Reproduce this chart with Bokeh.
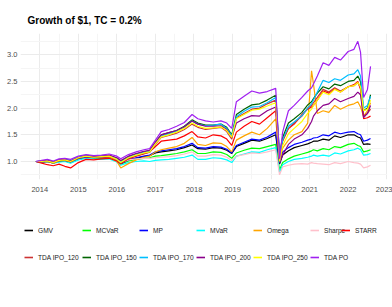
from bokeh.plotting import figure
from bokeh.layouts import column
from bokeh.models import Range1d, FixedTicker, Legend, LegendItem
from bokeh.embed import file_html
from bokeh.resources import INLINE

# ---------------- data ----------------
dates = [2013.90, 2014.05, 2014.20, 2014.35, 2014.50, 2014.65, 2014.80, 2015.00, 2015.20, 2015.40,
         2015.60, 2015.80, 2016.00, 2016.10, 2016.30, 2016.50, 2016.70, 2016.85, 2017.00, 2017.15,
         2017.35, 2017.55, 2017.75, 2017.95, 2018.10, 2018.30, 2018.50, 2018.70, 2018.85, 2018.98,
         2019.10, 2019.30, 2019.50, 2019.70, 2019.90, 2020.12, 2020.22, 2020.30, 2020.45, 2020.60,
         2020.80, 2020.95, 2021.05, 2021.10, 2021.20, 2021.35, 2021.50, 2021.65, 2021.80, 2022.00,
         2022.15, 2022.25, 2022.32, 2022.40, 2022.50, 2022.58]

GMV = [1.00, 0.99, 1.00, 0.98, 1.00, 1.01, 0.99, 1.04, 1.07, 1.06,
       1.06, 1.07, 1.02, 0.97, 1.03, 1.06, 1.09, 1.11, 1.16, 1.18,
       1.20, 1.22, 1.26, 1.31, 1.24, 1.23, 1.26, 1.25, 1.21, 1.15,
       1.28, 1.34, 1.40, 1.38, 1.43, 1.50, 0.95, 1.12, 1.20, 1.26,
       1.30, 1.33, 1.36, 1.38, 1.38, 1.42, 1.40, 1.48, 1.45, 1.50,
       1.50, 1.46, 1.44, 1.32, 1.33, 1.32]
MCVaR = [1.00, 0.99, 1.00, 0.97, 1.00, 1.01, 0.98, 1.04, 1.07, 1.06,
         1.06, 1.07, 1.01, 0.95, 1.01, 1.04, 1.06, 1.07, 1.10, 1.11,
         1.13, 1.15, 1.18, 1.22, 1.15, 1.15, 1.18, 1.17, 1.13, 1.06,
         1.16, 1.21, 1.25, 1.24, 1.28, 1.32, 0.84, 0.98, 1.05, 1.10,
         1.14, 1.17, 1.20, 1.22, 1.20, 1.24, 1.22, 1.28, 1.26, 1.32,
         1.34, 1.30, 1.28, 1.18, 1.20, 1.22]
MP = [1.00, 0.99, 1.01, 0.98, 1.01, 1.02, 0.99, 1.05, 1.08, 1.07,
      1.07, 1.08, 1.02, 0.96, 1.03, 1.07, 1.10, 1.12, 1.18, 1.20,
      1.22, 1.24, 1.28, 1.34, 1.26, 1.25, 1.28, 1.27, 1.23, 1.16,
      1.30, 1.36, 1.42, 1.40, 1.46, 1.55, 0.97, 1.18, 1.26, 1.32,
      1.36, 1.40, 1.42, 1.44, 1.45, 1.50, 1.48, 1.55, 1.52, 1.55,
      1.56, 1.52, 1.50, 1.38, 1.40, 1.43]
MVaR = [1.00, 0.99, 1.00, 0.97, 0.99, 1.00, 0.97, 1.03, 1.06, 1.05,
        1.04, 1.05, 0.99, 0.93, 0.98, 1.00, 1.01, 1.00, 1.02, 1.03,
        1.04, 1.06, 1.08, 1.12, 1.04, 1.04, 1.07, 1.06, 1.03, 0.98,
        1.10, 1.14, 1.18, 1.17, 1.22, 1.26, 0.80, 0.94, 1.00, 1.04,
        1.06, 1.08, 1.10, 1.12, 1.10, 1.12, 1.10, 1.16, 1.14, 1.20,
        1.22, 1.25, 1.22, 1.12, 1.13, 1.15]
Omega = [1.00, 1.00, 1.02, 0.99, 1.02, 1.03, 1.00, 1.07, 1.12, 1.10,
         1.09, 1.08, 1.00, 0.88, 0.96, 1.03, 1.08, 1.10, 1.18, 1.22,
         1.25, 1.28, 1.34, 1.45, 1.32, 1.30, 1.35, 1.34, 1.28, 1.18,
         1.40, 1.48, 1.55, 1.50, 1.62, 1.80, 1.00, 1.25, 1.40, 1.50,
         1.56, 1.72, 2.70, 2.45, 1.90, 1.95, 1.92, 2.05, 1.98, 2.05,
         2.08, 2.12, 2.02, 1.85, 1.95, 2.10]
Sharpe = [1.00, 1.00, 1.02, 1.00, 1.03, 1.04, 1.02, 1.08, 1.12, 1.10,
          1.09, 1.10, 1.04, 0.98, 1.03, 1.05, 1.06, 1.06, 1.07, 1.08,
          1.09, 1.11, 1.14, 1.18, 1.10, 1.10, 1.13, 1.12, 1.08, 1.02,
          1.10, 1.13, 1.16, 1.15, 1.18, 1.22, 0.75, 0.90, 0.93, 0.95,
          0.96, 0.95, 0.98, 0.97, 0.96, 0.95, 0.94, 0.98, 0.96, 1.00,
          0.98, 0.97, 0.95, 0.88, 0.90, 0.93]
STARR = [1.00, 0.97, 0.94, 0.92, 0.95, 0.91, 0.88, 0.98, 1.04, 1.03,
         1.05, 1.06, 1.01, 0.96, 1.05, 1.10, 1.14, 1.18, 1.28, 1.38,
         1.40, 1.42, 1.48, 1.56, 1.46, 1.44, 1.50, 1.48, 1.42, 1.30,
         1.55, 1.66, 1.75, 1.70, 1.82, 1.95, 1.02, 1.38, 1.62, 1.70,
         1.88, 1.98, 2.02, 2.05, 2.15, 2.32, 2.28, 2.36, 2.30, 2.40,
         2.44, 2.50, 2.35, 1.80, 1.82, 1.85]
IPO_120 = [1.00, 0.99, 1.00, 0.97, 1.01, 1.02, 0.99, 1.06, 1.09, 1.07,
           1.08, 1.09, 1.03, 0.97, 1.06, 1.11, 1.15, 1.17, 1.32, 1.45,
           1.49, 1.53, 1.60, 1.70, 1.64, 1.60, 1.62, 1.64, 1.56, 1.42,
           1.82, 1.90, 1.98, 2.00, 2.08, 2.15, 1.05, 1.42, 1.62, 1.72,
           1.85, 2.00, 2.05, 2.10, 2.20, 2.35, 2.30, 2.38, 2.32, 2.40,
           2.42, 2.48, 2.38, 1.85, 1.90, 1.98]
IPO_150 = [1.00, 1.00, 1.02, 0.99, 1.03, 1.04, 1.01, 1.08, 1.11, 1.09,
           1.10, 1.11, 1.06, 1.00, 1.09, 1.14, 1.18, 1.20, 1.36, 1.50,
           1.54, 1.58, 1.66, 1.78, 1.72, 1.68, 1.68, 1.70, 1.64, 1.50,
           1.88, 1.98, 2.06, 2.08, 2.15, 2.24, 1.15, 1.45, 1.72, 1.80,
           1.92, 2.06, 2.12, 2.18, 2.28, 2.40, 2.36, 2.45, 2.42, 2.50,
           2.52, 2.60, 2.50, 1.95, 2.00, 2.25]
IPO_170 = [1.00, 1.01, 1.02, 1.00, 1.03, 1.05, 1.02, 1.08, 1.10, 1.09,
           1.09, 1.11, 1.05, 0.99, 1.08, 1.13, 1.17, 1.19, 1.34, 1.48,
           1.52, 1.57, 1.64, 1.76, 1.70, 1.67, 1.68, 1.70, 1.62, 1.48,
           1.84, 1.94, 2.02, 2.03, 2.10, 2.20, 1.08, 1.40, 1.66, 1.74,
           1.86, 2.00, 2.08, 2.15, 2.30, 2.52, 2.48, 2.55, 2.52, 2.62,
           2.64, 2.72, 2.60, 2.00, 2.05, 2.22]
IPO_200 = [1.00, 1.01, 1.02, 0.99, 1.03, 1.04, 1.01, 1.07, 1.10, 1.09,
           1.10, 1.12, 1.07, 1.02, 1.10, 1.15, 1.19, 1.21, 1.36, 1.50,
           1.54, 1.58, 1.65, 1.76, 1.70, 1.66, 1.66, 1.67, 1.60, 1.45,
           1.72, 1.80, 1.86, 1.85, 1.95, 2.02, 0.98, 1.12, 1.32, 1.42,
           1.50, 1.62, 1.75, 1.85, 1.95, 2.05, 2.08, 2.18, 2.12, 2.18,
           2.22, 2.30, 2.25, 1.82, 1.90, 2.05]
IPO_250 = [1.00, 1.00, 1.01, 0.98, 1.02, 1.03, 1.00, 1.07, 1.10, 1.08,
           1.09, 1.10, 1.04, 0.98, 1.07, 1.12, 1.16, 1.18, 1.33, 1.46,
           1.50, 1.55, 1.62, 1.72, 1.66, 1.62, 1.63, 1.65, 1.58, 1.45,
           1.80, 1.88, 1.96, 1.98, 2.04, 2.10, 1.00, 1.30, 1.52, 1.62,
           1.75, 1.90, 1.98, 2.05, 2.15, 2.30, 2.25, 2.35, 2.30, 2.40,
           2.42, 2.48, 2.40, 1.95, 1.98, 2.15]
TDA_PO = [1.00, 1.02, 1.04, 1.01, 1.05, 1.06, 1.04, 1.10, 1.13, 1.11,
          1.12, 1.14, 1.10, 1.05, 1.13, 1.18, 1.22, 1.24, 1.40, 1.56,
          1.60, 1.66, 1.73, 1.88, 1.80, 1.76, 1.74, 1.76, 1.72, 1.62,
          2.12, 2.22, 2.32, 2.28, 2.31, 2.37, 1.05, 1.55, 1.95, 2.05,
          2.20, 2.32, 2.38, 2.45, 2.60, 2.85, 2.80, 2.95, 2.90, 3.06,
          3.10, 3.25, 3.05, 2.20, 2.35, 2.78]

series_names = ["GMV", "MCVaR", "MP", "MVaR", "Omega", "Sharpe", "STARR",
                "TDA IPO_120", "TDA IPO_150", "TDA IPO_170", "TDA IPO_200", "TDA IPO_250", "TDA PO"]
series_values = [GMV, MCVaR, MP, MVaR, Omega, Sharpe, STARR,
                 IPO_120, IPO_150, IPO_170, IPO_200, IPO_250, TDA_PO]
series_colors = ["#000000", "#00FF00", "#0000FF", "#00FFFF", "#FFA500", "#FFC0CB", "#FF0000",
                 "#CD3333", "#006400", "#00BFFF", "#8B008B", "#FFFF00", "#A020F0"]

x_ticks = [2014, 2015, 2016, 2017, 2018, 2019, 2020, 2021, 2022, 2023]
x_minor = [2013.5, 2014.5, 2015.5, 2016.5, 2017.5, 2018.5, 2019.5, 2020.5, 2021.5, 2022.5]
y_ticks = [1.0, 1.5, 2.0, 2.5, 3.0]
y_minor = [0.75, 1.25, 1.75, 2.25, 2.75, 3.25]
y_labels = ["1.0", "1.5", "2.0", "2.5", "3.0"]

FONT = "'Liberation Sans', Arial, sans-serif"
W = 392

# ---------------- main figure ----------------
p = figure(width=W, height=208, output_backend="svg", toolbar_location=None,
           x_range=Range1d(2013.5, 2023.02), y_range=Range1d(0.663, 3.397),
           min_border_left=20, min_border_right=5, min_border_top=33, min_border_bottom=29)
p.outline_line_color = None
p.background_fill_color = "white"

p.title.text = "Growth of $1, TC = 0.2%"
p.title.text_font = FONT
p.title.text_font_size = "10px"
p.title.text_font_style = "bold"
p.title.text_color = "black"
p.title.align = "left"
p.title.standoff = 15
p.title.offset = 7

p.xaxis.ticker = FixedTicker(ticks=x_ticks, minor_ticks=x_minor)
p.yaxis.ticker = FixedTicker(ticks=y_ticks, minor_ticks=y_minor)
p.xaxis.major_label_overrides = {t: str(t) for t in x_ticks}
p.yaxis.major_label_overrides = {t: l for t, l in zip(y_ticks, y_labels)}
for ax in (p.xaxis, p.yaxis):
    ax.axis_line_color = None
    ax.major_tick_line_color = None
    ax.minor_tick_line_color = None
    ax.major_tick_out = 0
    ax.major_tick_in = 0
    ax.minor_tick_out = 0
    ax.minor_tick_in = 0
    ax.major_label_text_font = FONT
    ax.major_label_text_font_size = "7.5px"
    ax.major_label_text_color = "#4D4D4D"
p.xaxis.major_label_standoff = 7
p.yaxis.major_label_standoff = 3

for g in (p.xgrid, p.ygrid):
    g.grid_line_color = "#EBEBEB"
    g.grid_line_width = 1
    g.minor_grid_line_color = "#F5F5F5"
    g.minor_grid_line_width = 1

for name, vals, col in zip(series_names, series_values, series_colors):
    p.line(dates, vals, line_color=col, line_width=1.2)

# ---------------- legend strip ----------------
lg = figure(width=W, height=99, output_backend="svg", toolbar_location=None,
            x_range=Range1d(0, 1), y_range=Range1d(0, 1),
            x_axis_location=None, y_axis_location=None,
            min_border_left=0, min_border_right=0, min_border_top=0, min_border_bottom=0)
lg.outline_line_color = None
lg.xgrid.visible = False
lg.ygrid.visible = False

# key renderers carry the series (outside this strip's view) so the legend keys draw
key_renderers = [lg.line(dates, vals, line_color=col, line_width=1.6)
                 for vals, col in zip(series_values, series_colors)]

row1_x = [4, 62, 119, 176, 233, 290, 321]
row2_x = [4, 62, 119, 176, 233, 290]
positions = [(x, 72) for x in row1_x] + [(x, 45) for x in row2_x]
for name, r, (lx, ly) in zip(series_names, key_renderers, positions):
    leg = Legend(items=[LegendItem(label=name, renderers=[r])], location=(lx, ly),
                 orientation="horizontal", border_line_color=None, background_fill_alpha=0,
                 padding=0, margin=0, spacing=0, glyph_width=9, glyph_height=10,
                 label_height=10, label_standoff=5, label_text_font=FONT,
                 label_text_font_size="6.6px", label_text_color="#1A1A1A")
    lg.add_layout(leg)

layout = column(p, lg, spacing=0)
open("out.html", "w").write(file_html(layout, INLINE))
